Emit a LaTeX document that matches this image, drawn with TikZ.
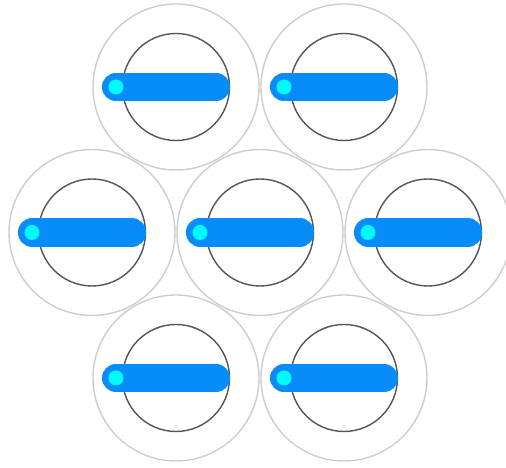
\documentclass[tikz,border=0pt]{standalone}
\usepackage{tikz}
\usetikzlibrary{calc}
\definecolor{rimgray}{RGB}{205,205,205}
\definecolor{hubgray}{RGB}{85,85,85}
\definecolor{barblue}{RGB}{8,140,250}
\definecolor{tipcyan}{RGB}{0,250,255}
\tikzset{
  rim/.style={draw=rimgray, line width=0.8pt},
  hub/.style={draw=hubgray, line width=0.8pt},
  bar/.style={draw=barblue, line width=16pt, line cap=round},
  tip/.style={fill=tipcyan},
}

\begin{document}
\begin{tikzpicture}

% ===================== frame (506 x 468 px, 1px = 0.02cm) ==================
\useasboundingbox (0,0) rectangle (10.12,-9.36);

% ===================== the seven cells, hex packed ==========================
\foreach \n/\x/\y in {a/3.52/-1.74, b/6.88/-1.74,
                      c/1.84/-4.65, d/5.20/-4.65, e/8.56/-4.65,
                      f/3.52/-7.56, g/6.88/-7.56} {
  \coordinate (\n) at (\x,\y);
  \draw[rim] (\n) circle (1.66);
  \draw[hub] (\n) circle (1.07);
  \draw[bar] ($(\n)+(-1.20,0)$) -- ($(\n)+(0.80,0)$);
  \fill[tip] ($(\n)+(-1.20,0)$) circle (0.15);
}

\end{tikzpicture}
\end{document}
